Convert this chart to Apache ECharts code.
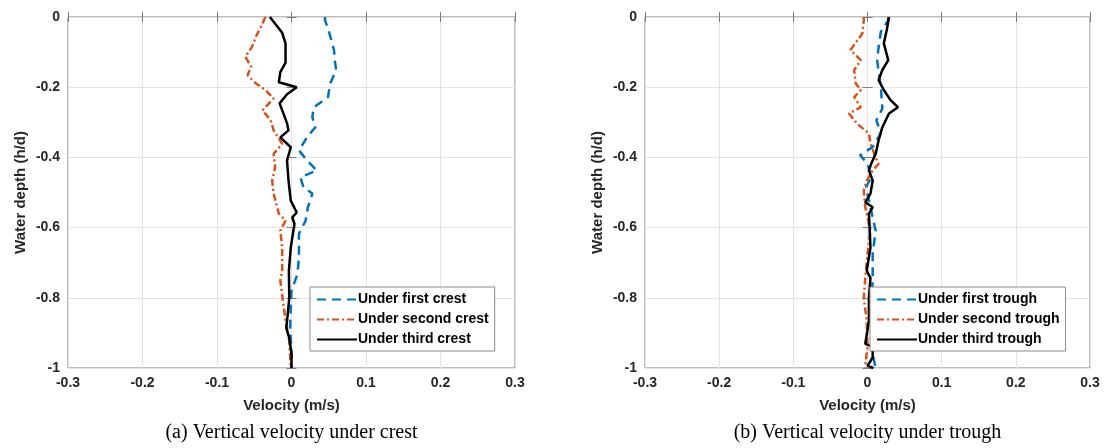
<!DOCTYPE html>
<html>
<head>
<meta charset="utf-8">
<script src="https://cdn.jsdelivr.net/npm/echarts@6/dist/echarts.min.js"></script>
<style>
html,body{margin:0;padding:0;background:#fff;}
#c{width:1105px;height:448px;}
</style>
</head>
<body>
<div id="c"></div>
<script>
// ---- data: [velocity (m/s), water depth (h/d)] ----
const xTicks = [-0.3, -0.2, -0.1, 0, 0.1, 0.2, 0.3];
const yTicks = [-1, -0.8, -0.6, -0.4, -0.2, 0];
const crestNames = ['Under first crest', 'Under second crest', 'Under third crest'];
const troughNames = ['Under first trough', 'Under second trough', 'Under third trough'];
const captions = ['(a) Vertical velocity under crest', '(b) Vertical velocity under trough'];

const firstCrest = [[0.045,0],[0.045,-0.009],[0.051,-0.047],[0.057,-0.094],[0.058,-0.123],[0.060,-0.151],[0.052,-0.189],[0.049,-0.228],[0.030,-0.257],[0.028,-0.285],[0.032,-0.314],[0.021,-0.342],[0.010,-0.38],[0.021,-0.409],[0.034,-0.437],[0.012,-0.457],[0.016,-0.485],[0.028,-0.503],[0.022,-0.542],[0.019,-0.58],[0.010,-0.617],[0.010,-0.685],[0.008,-0.732],[0.0,-0.78],[-0.001,-0.828],[-0.002,-0.894],[0.0,-0.94],[0.0,-1]];
const secondCrest = [[-0.035,0],[-0.041,-0.028],[-0.048,-0.057],[-0.053,-0.085],[-0.062,-0.113],[-0.054,-0.142],[-0.059,-0.166],[-0.048,-0.189],[-0.035,-0.208],[-0.024,-0.232],[-0.039,-0.266],[-0.028,-0.294],[-0.024,-0.323],[-0.0125,-0.361],[-0.024,-0.39],[-0.022,-0.428],[-0.026,-0.466],[-0.024,-0.503],[-0.017,-0.56],[-0.008,-0.58],[-0.015,-0.609],[-0.0125,-0.657],[-0.0125,-0.723],[-0.015,-0.751],[-0.011,-0.817],[-0.008,-0.866],[-0.003,-0.923],[-0.001,-1]];
const thirdCrest = [[-0.029,0],[-0.0125,-0.045],[-0.008,-0.075],[-0.008,-0.13],[-0.015,-0.157],[-0.017,-0.186],[0.007,-0.2],[-0.006,-0.22],[-0.016,-0.246],[-0.011,-0.274],[-0.006,-0.303],[-0.004,-0.323],[-0.015,-0.343],[-0.001,-0.371],[-0.006,-0.409],[-0.004,-0.466],[-0.001,-0.523],[0.007,-0.557],[0.001,-0.571],[0.004,-0.589],[-0.001,-0.657],[-0.0035,-0.723],[-0.003,-0.8],[-0.005,-0.846],[-0.007,-0.886],[-0.003,-0.914],[0,-0.96],[0,-1]];

const firstTrough = [[0.028,0],[0.028,-0.009],[0.018,-0.042],[0.015,-0.085],[0.013,-0.123],[0.015,-0.156],[0.018,-0.2],[0.020,-0.261],[0.012,-0.294],[0.018,-0.332],[0.007,-0.37],[-0.010,-0.394],[0.0,-0.418],[0.005,-0.457],[-0.002,-0.485],[0.002,-0.523],[0.011,-0.609],[0.007,-0.675],[0.007,-0.751],[0.005,-0.846],[0.005,-0.94],[0.011,-1]];
const secondTrough = [[-0.005,0],[-0.005,-0.009],[-0.007,-0.047],[-0.023,-0.094],[-0.009,-0.123],[-0.018,-0.151],[-0.016,-0.189],[-0.009,-0.208],[-0.018,-0.228],[-0.009,-0.257],[-0.025,-0.275],[-0.014,-0.304],[0.002,-0.332],[0.004,-0.361],[0.011,-0.4],[0.015,-0.418],[0.007,-0.437],[-0.001,-0.466],[-0.005,-0.494],[-0.003,-0.542],[0.004,-0.609],[0.0,-0.675],[-0.003,-0.743],[-0.005,-0.8],[-0.001,-0.866],[0.0,-0.94],[-0.003,-0.99],[-0.002,-1]];
const thirdTrough = [[0.029,0],[0.026,-0.037],[0.022,-0.075],[0.028,-0.123],[0.020,-0.151],[0.015,-0.18],[0.022,-0.208],[0.031,-0.237],[0.041,-0.257],[0.029,-0.275],[0.020,-0.314],[0.015,-0.351],[0.011,-0.39],[0.005,-0.418],[0.002,-0.437],[0.007,-0.466],[0.004,-0.503],[-0.003,-0.528],[0.007,-0.542],[0.002,-0.56],[0.004,-0.657],[-0.001,-0.723],[0.004,-0.743],[0.002,-0.8],[0.002,-0.866],[-0.003,-0.931],[0.007,-0.94],[0.007,-0.97],[0.0,-0.994],[0.008,-1]];

// ---- styles ----
const FONT = '"Liberation Sans", Arial, sans-serif';
const AX = '#262626';
const BOX = '#7a7a7a';
const styles = [
  {color:'#0072BD', type:[9,6]},
  {color:'#D95319', type:[7,3,2,3]},
  {color:'#000000', type:'solid'}
];

const grids = [
  {left:68, width:447, top:17, height:351},
  {left:645, width:445, top:17, height:351}
];

function xAx(gi, pos){
  return {
    type:'value', gridIndex:gi, position:pos, min:xTicks[0], max:xTicks[xTicks.length-1], interval:0.1,
    axisLine:{show:false},
    axisTick:{show:true, inside:true, length:5, lineStyle:{color:BOX}},
    axisLabel:{show:pos==='bottom', color:AX, fontFamily:FONT, fontWeight:'bold', fontSize:14, margin:8,
      formatter:v=>String(Math.round(v*10)/10)},
    splitLine:{show:pos==='bottom', lineStyle:{color:'#e3e3e3', width:1}},
    name: pos==='bottom' ? 'Velocity (m/s)' : '',
    nameLocation:'middle', nameGap:30,
    nameTextStyle:{color:AX, fontFamily:FONT, fontWeight:'bold', fontSize:15}
  };
}
function yAx(gi, pos){
  return {
    type:'value', gridIndex:gi, position:pos, min:yTicks[0], max:yTicks[yTicks.length-1], interval:0.2,
    axisLine:{show:false},
    axisTick:{show:true, inside:true, length:5, lineStyle:{color:BOX}},
    axisLabel:{show:pos==='left', color:AX, fontFamily:FONT, fontWeight:'bold', fontSize:14, margin:8,
      formatter:v=>String(Math.round(v*10)/10)},
    splitLine:{show:pos==='left', lineStyle:{color:'#e3e3e3', width:1}},
    name: pos==='left' ? 'Water depth (h/d)' : '',
    nameLocation:'middle', nameGap:40,
    nameTextStyle:{color:AX, fontFamily:FONT, fontWeight:'bold', fontSize:15}
  };
}

function mk(name, data, k, gi){
  return {
    type:'line', name:name, data:data, xAxisIndex:gi*2, yAxisIndex:gi*2,
    showSymbol:false, symbol:'none', smooth:false, clip:true,
    lineStyle:{color:styles[k].color, width:2.5, type:styles[k].type},
    itemStyle:{color:styles[k].color}
  };
}

function legendFor(names, left){
  return {
    orient:'vertical', left:left, top:287, data:names,
    itemWidth:40, itemHeight:2, itemGap:3,
    itemStyle:{opacity:0},
    backgroundColor:'#fff', borderColor:'#8a8a8a', borderWidth:1, padding:[4,6,3,6],
    textStyle:{color:'#000', fontFamily:FONT, fontWeight:'bold', fontSize:14, lineHeight:17, padding:[0,0,0,-4]}
  };
}

const option = {
  animation:false,
  backgroundColor:'#fff',
  grid: grids.map(g=>Object.assign({show:true, borderColor:BOX, borderWidth:1, backgroundColor:'#fff'}, g)),
  xAxis:[xAx(0,'bottom'), xAx(0,'top'), xAx(1,'bottom'), xAx(1,'top')],
  yAxis:[yAx(0,'left'), yAx(0,'right'), yAx(1,'left'), yAx(1,'right')],
  legend:[ legendFor(crestNames, 310), legendFor(troughNames, 870) ],
  series:[
    mk(crestNames[0], firstCrest, 0, 0),
    mk(crestNames[1], secondCrest, 1, 0),
    mk(crestNames[2], thirdCrest, 2, 0),
    mk(troughNames[0], firstTrough, 0, 1),
    mk(troughNames[1], secondTrough, 1, 1),
    mk(troughNames[2], thirdTrough, 2, 1)
  ],
  graphic: captions.map((t,i)=>({
    type:'text', x: grids[i].left + grids[i].width/2, y: 433,
    style:{text:t, font:'20px "Liberation Serif", "Times New Roman", serif', fill:'#000', textAlign:'center', textVerticalAlign:'middle'}
  }))
};

const chart = echarts.init(document.getElementById('c'), null, {renderer:'canvas'});
chart.setOption(option);
</script>
</body>
</html>
